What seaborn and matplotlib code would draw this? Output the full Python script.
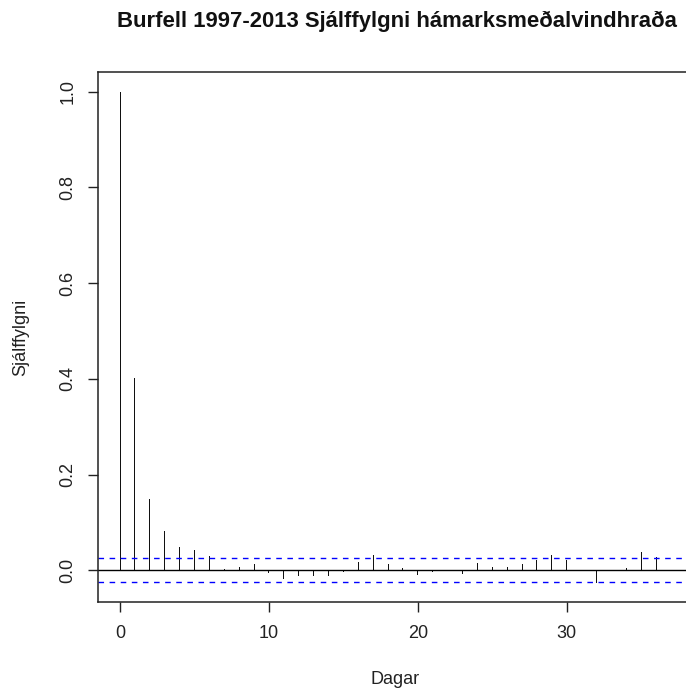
import matplotlib
matplotlib.use("Agg")
import matplotlib.pyplot as plt
import numpy as np
import pandas as pd
import seaborn as sns

# ---- data ----
title = "Burfell 1997-2013 Sjálffylgni hámarksmeðalvindhraða"
x_label = "Dagar"
y_label = "Sjálffylgni"
lags = list(range(38))
acf = [1.000, 0.402, 0.150, 0.082, 0.049, 0.042, 0.030, 0.002, 0.007, 0.014,
       -0.006, -0.017, -0.011, -0.011, -0.011, -0.003, 0.017, 0.033, 0.013, 0.005,
       -0.009, -0.003, 0.001, -0.007, 0.016, 0.007, 0.007, 0.014, 0.022, 0.032,
       0.022, 0.001, -0.027, -0.002, 0.006, 0.038, 0.027, 0.001]
conf_limit = 0.025
x_ticks = [0, 10, 20, 30]
y_ticks = [0.0, 0.2, 0.4, 0.6, 0.8, 1.0]
y_tick_labels = ["0.0", "0.2", "0.4", "0.6", "0.8", "1.0"]

sns.set_style("ticks")
plt.rcParams["font.family"] = ["Liberation Sans", "DejaVu Sans"]

W, H = 686, 689
fig = plt.figure(figsize=(W / 100, H / 100), dpi=100)
left, right, top, bottom = 98, 693, 72, 602
ax = fig.add_axes([left / W, 1 - bottom / H, (right - left) / W, (bottom - top) / H])

df = pd.DataFrame({"lag": lags, "acf": acf})
sns.barplot(data=df, x="lag", y="acf", native_scale=True, width=0.07,
            color="#111111", saturation=1, errorbar=None, linewidth=0, ax=ax)

ax.axhline(0, color="black", lw=1)
for c in (conf_limit, -conf_limit):
    ax.axhline(c, color="blue", lw=1, ls=(0, (4, 4)))

ax.set_xlim(-1.48, 38.48)
ax.set_ylim(-0.066, 1.041)
ax.set_xticks(x_ticks)
ax.set_xticklabels([str(t) for t in x_ticks])
ax.set_yticks(y_ticks)
ax.set_yticklabels(y_tick_labels, rotation=90, va="center")

for s in ax.spines.values():
    s.set_visible(True)
    s.set_color("#222222")
    s.set_linewidth(1.1)

ax.tick_params(axis="both", direction="out", length=7.5, width=1, color="#222222",
               labelsize=13, labelcolor="#222222", bottom=True, left=True)
ax.tick_params(axis="x", pad=9)
ax.tick_params(axis="y", pad=8)

ax.set_xlabel(x_label, fontsize=13, color="#222222")
ax.set_ylabel(y_label, fontsize=13, color="#222222")
ax.xaxis.set_label_coords(0.5, (bottom - 679) / (bottom - top))
ax.xaxis.label.set_va("center")
ax.yaxis.set_label_coords((21 - left) / (right - left), 0.5)
ax.yaxis.label.set_va("center")

fig.text(397 / W, 1 - 21 / H, title, ha="center", va="center",
         fontsize=15.9, fontweight="bold", color="#111111")

fig.savefig("out.png", dpi=100)
